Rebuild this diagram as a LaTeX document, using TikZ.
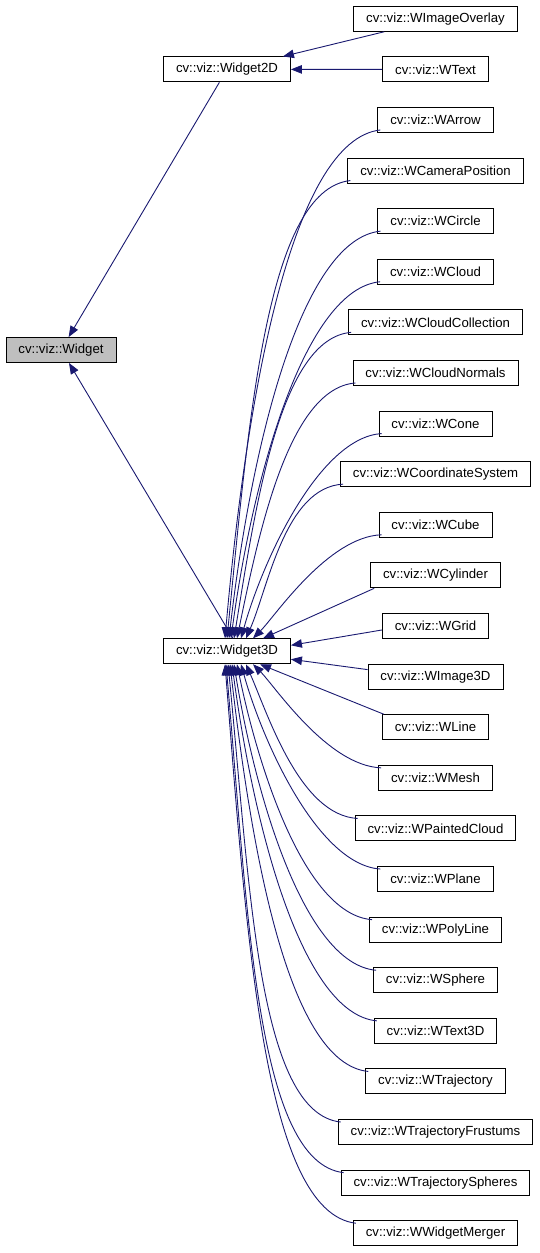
\documentclass[tikz,border=0pt]{standalone}
\usepackage{fontspec}
\setmainfont{Liberation Sans}
\usetikzlibrary{arrows.meta,calc}
\definecolor{edgeblue}{HTML}{191970}
\definecolor{basegray}{HTML}{BFBFBF}
\begin{document}
\begin{tikzpicture}[x=1pt,y=1pt,
  cls/.style={draw=black, line width=0.9pt, fill=white, minimum height=25pt,
    inner xsep=12.5pt, inner ysep=0pt, font=\fontsize{13.2}{15}\selectfont},
  basecls/.style={cls, fill=basegray},
  edge/.style={draw=edgeblue, line width=0.9pt, -{Triangle[length=11pt,width=8.5pt]}},
]
\useasboundingbox (0,0) rectangle (539,-1253);

\node[basecls] (w) at (61,-350) {cv::viz::Widget};
\node[cls] (w2d) at (227,-69.4) {cv::viz::Widget2D};
\node[cls] (w3d) at (227,-651.3) {cv::viz::Widget3D};

\foreach \nm [count=\k from 0] in {WImageOverlay,WText,WArrow,WCameraPosition,WCircle,WCloud,
  WCloudCollection,WCloudNormals,WCone,WCoordinateSystem,WCube,WCylinder,WGrid,WImage3D,
  WLine,WMesh,WPaintedCloud,WPlane,WPolyLine,WSphere,WText3D,WTrajectory,
  WTrajectoryFrustums,WTrajectorySpheres,WWidgetMerger}
  \node[cls] (\nm) at (435.5,{-(18.8+50.6*\k)}) {cv::viz::\nm};

% base class edges
\draw[edge] (w2d) -- (w);
\draw[edge] ($(w3d.north)+(6,0)$) -- ($(w.south)+(8,0)$);

% Widget2D children
\draw[edge] ($(WImageOverlay.south west)+(31,0)$) -- ($(w2d.north east)+(-8,0)$);
\draw[edge] (WText.west) -- (w2d.east);

% Widget3D children above
\foreach \nm/\o in {WArrow/-2,WCameraPosition/0,WCircle/2,WCloud/4,WCloudCollection/7,
  WCloudNormals/10,WCone/14,WCoordinateSystem/19,WCube/26}
  \draw[edge] let \p1=($(\nm.south west)+(3,3)$), \p2=($(w3d.north)+(\o,0)$),
    \n1={\y1-(\y2)} in
    (\p1) .. controls +({-45-0.084*\n1},{-0.02*\n1}) and +(22,{0.56*\n1-36}) .. (\p2);
\draw[edge] ($(WCylinder.south west)+(4,0)$) -- ($(w3d.north)+(36,0)$);

% straight ones to the side
\draw[edge] ($(WGrid.west)+(0,-4)$) -- ($(w3d.east)+(0,6)$);
\draw[edge] ($(WImage3D.west)+(0,7)$) -- ($(w3d.east)+(0,-8)$);

% Widget3D children below
\draw[edge] ($(WLine.north west)+(2,0)$) -- ($(w3d.south)+(33,0)$);
\foreach \nm/\o in {WMesh/26,WPaintedCloud/19,WPlane/14,WPolyLine/10,WSphere/7,WText3D/5,
  WTrajectory/3,WTrajectoryFrustums/1,WTrajectorySpheres/-1,WWidgetMerger/-2}
  \draw[edge] let \p1=($(\nm.north west)+(3,-3)$), \p2=($(w3d.south)+(\o,0)$),
    \n1={\y2-(\y1)} in
    (\p1) .. controls +({-45-0.084*\n1},{0.02*\n1}) and +(22,{-(0.56*\n1-36)}) .. (\p2);
\end{tikzpicture}
\end{document}
